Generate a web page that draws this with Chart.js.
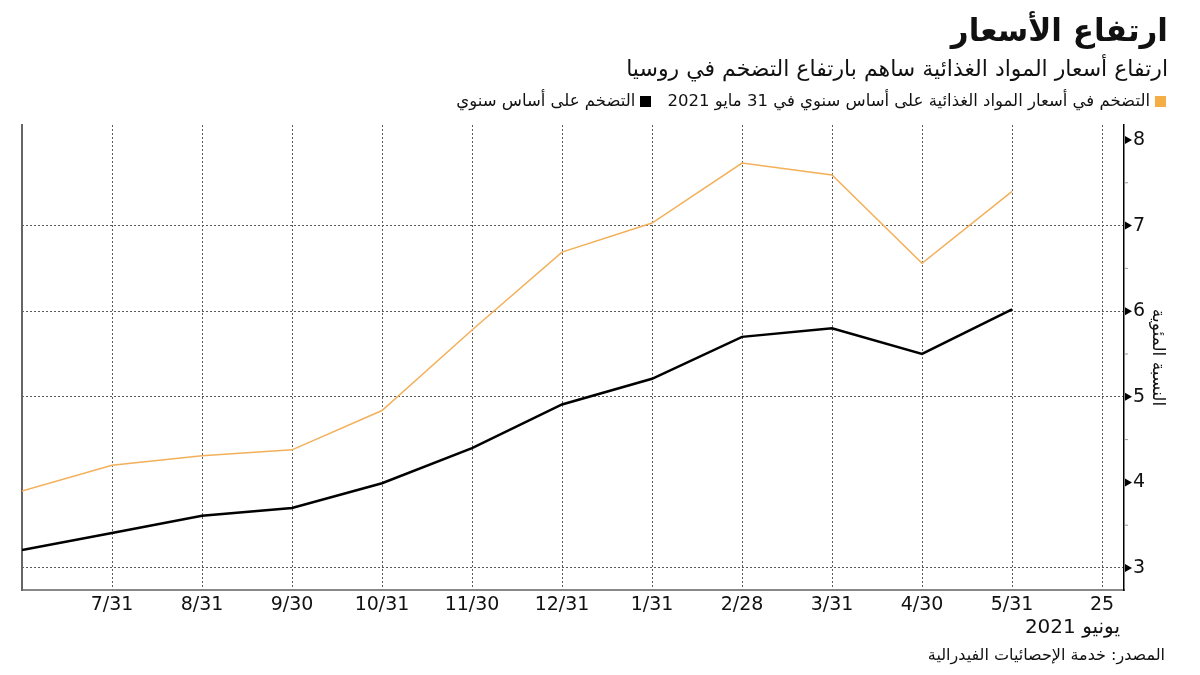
<!DOCTYPE html>
<html lang="ar">
<head>
<meta charset="utf-8">
<script src="https://cdn.jsdelivr.net/npm/chart.js"></script>
<style>
html, body { margin: 0; padding: 0; background: #fff; }
#wrap { position: relative; width: 1200px; height: 675px; font-family: "DejaVu Sans", sans-serif; color: #111; }
#wrap canvas { position: absolute; left: 0; top: 0; }
.txt { position: absolute; white-space: nowrap; line-height: 1; }
#title { right: 32px; top: 15px; font-size: 31px; font-weight: bold; direction: rtl; }
#subtitle { right: 32px; top: 58px; font-size: 22px; direction: rtl; }
#legend { right: 34px; top: 93px; font-size: 16.5px; direction: rtl; }
#legend .sq { display: inline-block; width: 11px; height: 11px; margin-left: 5px; vertical-align: -1px; }
#legend .item { margin-left: 16px; }
#month { right: 80px; top: 616px; font-size: 20px; direction: ltr; }
#source { right: 35px; top: 647px; font-size: 16px; direction: rtl; }
</style>
</head>
<body>
<div id="wrap">
  <canvas id="myChart" width="1200" height="675"></canvas>
  <div class="txt" id="title">ارتفاع الأسعار</div>
  <div class="txt" id="subtitle">ارتفاع أسعار المواد الغذائية ساهم بارتفاع التضخم في روسيا</div>
  <div class="txt" id="legend"><span class="item"><span class="sq" style="background:#f5ae45"></span>التضخم في أسعار المواد الغذائية على أساس سنوي في 31 مايو 2021</span><span class="item"><span class="sq" style="background:#000"></span>التضخم على أساس سنوي</span></div>
  <div class="txt" id="month">يونيو 2021</div>
  <div class="txt" id="source">المصدر: خدمة الإحصائيات الفيدرالية</div>
</div>
<script>
// tick labels of the x axis (position 0 = 30 June 2020)
var tickLabels = ['', '7/31', '8/31', '9/30', '10/31', '11/30', '12/31', '1/31', '2/28', '3/31', '4/30', '5/31', '25'];
// month positions of the readings, June 2020 .. May 2021
var months = [0, 1, 2, 3, 4, 5, 6, 7, 8, 9, 10, 11];
var foodInflation = [3.9, 4.2, 4.31, 4.38, 4.84, 5.78, 6.69, 7.03, 7.73, 7.59, 6.56, 7.4];
var headlineInflation = [3.21, 3.41, 3.61, 3.7, 3.99, 4.4, 4.91, 5.21, 5.7, 5.8, 5.5, 6.02];
var yTicks = [3, 4, 5, 6, 7, 8];
var yGridValues = [3, 5, 6, 7];

function points(values) {
    return months.map(function(m, i) { return { x: m, y: values[i] }; });
}

// little arrow heads and half-step dashes next to the right axis
var yMarks = {
    id: 'yMarks',
    afterDraw: function(chart) {
        var ctx = chart.ctx;
        var s = chart.scales.y;
        var x0 = s.left;
        ctx.save();
        s.ticks.forEach(function(t) {
            var y = s.getPixelForValue(t.value);
            if (Number.isInteger(t.value)) {
                ctx.fillStyle = '#000';
                ctx.beginPath();
                ctx.moveTo(x0 + 1, y - 4);
                ctx.lineTo(x0 + 8, y);
                ctx.lineTo(x0 + 1, y + 4);
                ctx.closePath();
                ctx.fill();
            } else {
                ctx.strokeStyle = '#999';
                ctx.lineWidth = 1;
                ctx.beginPath();
                ctx.moveTo(x0 + 1, y);
                ctx.lineTo(x0 + 4, y);
                ctx.stroke();
            }
        });
        ctx.restore();
    }
};

var ctx = document.getElementById('myChart').getContext('2d');
var myChart = new Chart(ctx, {
    type: 'line',
    data: {
        datasets: [{
            label: 'التضخم في أسعار المواد الغذائية على أساس سنوي',
            data: points(foodInflation),
            borderColor: '#f3b05a',
            borderWidth: 1.5,
            pointRadius: 0,
            tension: 0
        }, {
            label: 'التضخم على أساس سنوي',
            data: points(headlineInflation),
            borderColor: '#000',
            borderWidth: 2.5,
            pointRadius: 0,
            tension: 0
        }]
    },
    options: {
        responsive: false,
        animation: false,
        layout: { padding: { left: 22, top: 125, right: 0, bottom: 0 } },
        plugins: { legend: { display: false }, tooltip: { enabled: false }, title: { display: false } },
        scales: {
            x: {
                type: 'linear',
                min: 0,
                max: 12.244,
                afterBuildTicks: function(scale) {
                    scale.ticks = tickLabels.slice(1).map(function(l, i) { return { value: i + 1 }; });
                },
                afterFit: function(scale) { scale.height = 85; },
                ticks: {
                    autoSkip: false,
                    maxRotation: 0,
                    padding: 4,
                    color: '#111',
                    font: { family: 'DejaVu Sans', size: 19 },
                    callback: function(v) { return tickLabels[v]; }
                },
                grid: { color: '#5a5a5a', lineWidth: 1, drawTicks: false },
                border: { display: true, color: '#888', width: 2, dash: [2, 2] }
            },
            y: {
                position: 'right',
                min: 2.743,
                max: 8.175,
                afterBuildTicks: function(scale) {
                    var t = [];
                    yTicks.forEach(function(v, i) {
                        t.push({ value: v });
                        if (i < yTicks.length - 1) t.push({ value: v + 0.5 });
                    });
                    scale.ticks = t;
                },
                afterFit: function(scale) { scale.width = 76; },
                ticks: {
                    padding: 9,
                    color: '#111',
                    font: { family: 'DejaVu Sans', size: 19 },
                    callback: function(v) { return Number.isInteger(v) ? v : ''; }
                },
                grid: {
                    drawTicks: false,
                    lineWidth: 1,
                    color: function(c) {
                        return c.tick && yGridValues.indexOf(c.tick.value) >= 0 ? '#5a5a5a' : 'rgba(0,0,0,0)';
                    }
                },
                border: { display: true, color: '#000', width: 1.5, dash: [2, 2] },
                title: {
                    display: true,
                    text: 'النسبة المئوية',
                    color: '#111',
                    font: { family: 'DejaVu Sans', size: 17 },
                    padding: { top: 32, bottom: 0 }
                }
            },
            y2: {
                position: 'left',
                display: true,
                afterFit: function(scale) { scale.width = 0; },
                ticks: { display: false },
                grid: { drawOnChartArea: false, drawTicks: false },
                border: { display: true, color: '#666', width: 2 }
            }
        }
    },
    plugins: [yMarks]
});
</script>
</body>
</html>
